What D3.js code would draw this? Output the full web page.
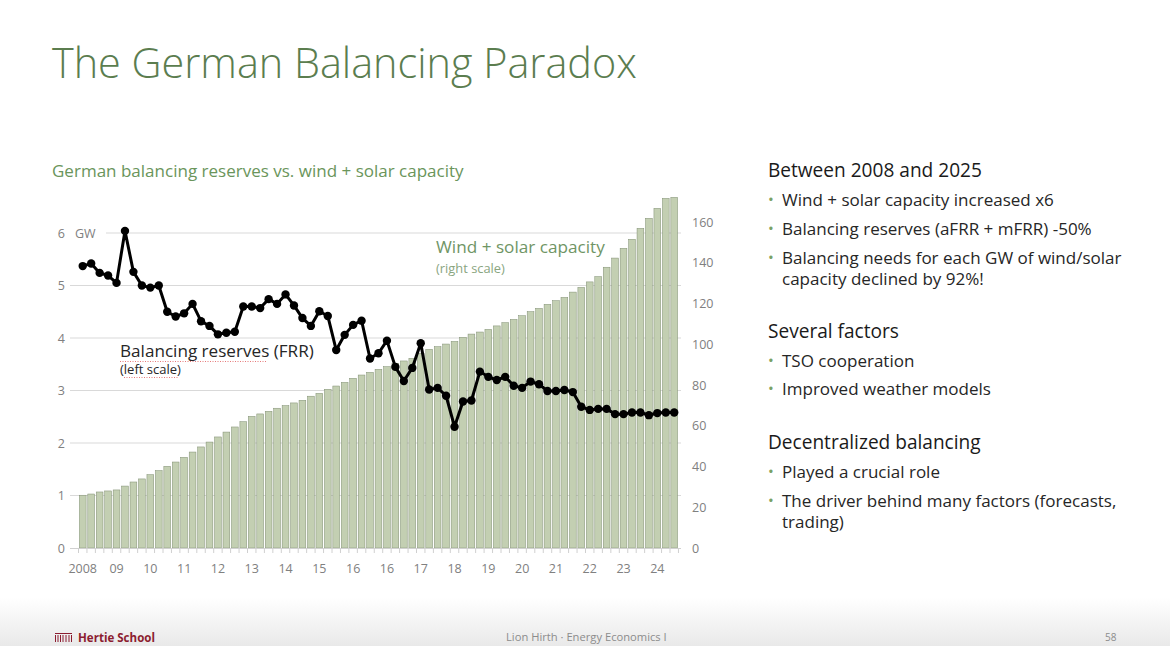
<!DOCTYPE html>
<html><head><meta charset="utf-8">
<script src="https://cdn.jsdelivr.net/npm/d3@7"></script>
<style>
html,body{margin:0;padding:0;background:#fff;}
svg{display:block;font-family:"Open Sans","Noto Sans",sans-serif;}
</style></head>
<body>
<svg id="c" width="1170" height="646"></svg>
<script>
// ---------------- data ----------------
const xTickLabels = ["2008","09","10","11","12","13","14","15","16","16","17","18","19","20","21","22","23","24"];
const labelEvery = 4;
// Wind + solar capacity (GW, right scale)
const capacity = [25.9,26.5,27.5,28.0,28.5,30.4,32.4,33.9,36.0,38.0,40.1,42.2,44.5,47.1,49.6,52.0,54.5,56.9,59.4,62.0,
  64.6,65.8,67.1,68.6,69.9,71.2,72.5,74.5,75.9,77.9,79.5,81.3,83.3,84.9,86.2,87.7,89.0,90.5,91.8,93.1,
  95.5,97.5,98.8,100.1,101.4,103.4,105.0,106.0,107.3,109.0,110.6,112.2,114.0,116.0,117.6,119.6,121.4,123.0,125.6,127.9,
  130.6,133.2,137.8,142.3,147.1,151.5,156.9,161.8,166.7,171.6,172.1];
// Balancing reserves FRR (GW, left scale)
const reserves = [5.37,5.42,5.24,5.19,5.05,6.04,5.26,5.00,4.96,5.00,4.50,4.41,4.47,4.65,4.32,4.23,4.07,4.10,4.12,4.60,
  4.60,4.57,4.74,4.65,4.83,4.62,4.38,4.23,4.51,4.42,3.77,4.06,4.25,4.33,3.61,3.71,3.95,3.45,3.18,3.43,
  3.90,3.02,3.05,2.90,2.31,2.79,2.81,3.36,3.26,3.20,3.26,3.09,3.05,3.17,3.12,2.99,2.99,3.01,2.97,2.69,
  2.63,2.65,2.65,2.55,2.55,2.58,2.58,2.53,2.57,2.58,2.58];
const categories = capacity.map((d,i)=>i);
const leftTicks = [0,1,2,3,4,5,6];
const rightTicks = [0,20,40,60,80,100,120,140,160];

const titleText = "The German Balancing Paradox";
const subtitleText = "German balancing reserves vs. wind + solar capacity";
const rightBlocks = [
  {head:"Between 2008 and 2025", items:[["Wind + solar capacity increased x6"],["Balancing reserves (aFRR + mFRR) -50%"],["Balancing needs for each GW of wind/solar","capacity declined by 92%!"]]},
  {head:"Several factors", items:[["TSO cooperation"],["Improved weather models"]]},
  {head:"Decentralized balancing", items:[["Played a crucial role"],["The driver behind many factors (forecasts,","trading)"]]}
];

// ---------------- drawing ----------------
const svg = d3.select("#c");
function fitTo(sel, w){ const fs = parseFloat(sel.attr("font-size")); const cur = sel.node().getComputedTextLength(); sel.attr("font-size", fs*w/cur); return fs*w/cur; }

// footer band
const defs = svg.append("defs");
const lg = defs.append("linearGradient").attr("id","fg").attr("x1",0).attr("y1",0).attr("x2",0).attr("y2",1);
lg.append("stop").attr("offset","0%").attr("stop-color","#ffffff");
lg.append("stop").attr("offset","100%").attr("stop-color","#e9e9e9");
svg.append("rect").attr("x",0).attr("y",598).attr("width",1170).attr("height",48).attr("fill","url(#fg)");

// title
const t = svg.append("text").attr("x",52).attr("y",78).attr("font-size",44).attr("font-weight",300)
  .attr("fill","#5b7d4f").text(titleText);
fitTo(t,585);
const st = svg.append("text").attr("x",52).attr("y",177).attr("font-size",16).attr("fill","#6a955b").text(subtitleText);
fitTo(st,412);

// scales
const step = 8.45;
const x = d3.scaleBand().domain(categories).range([78.5, 78.5+categories.length*step]).paddingInner(0.2).paddingOuter(0.1);
const yL = d3.scaleLinear().domain([0,6]).range([548,233]);
const yR = d3.scaleLinear().domain([0,160]).range([548,222]);

// gridlines
svg.append("g").selectAll("line").data(leftTicks.filter(d=>d>0)).join("line")
  .attr("x1",70).attr("x2",681).attr("y1",d=>yL(d)).attr("y2",d=>yL(d))
  .attr("stroke","#d9d9d9").attr("stroke-width",1);

// bars
svg.append("g").selectAll("rect").data(capacity).join("rect")
  .attr("x",(d,i)=>x(i)).attr("width",x.bandwidth())
  .attr("y",d=>yR(d)).attr("height",d=>yR(0)-yR(d))
  .attr("fill","#c3cfb2").attr("stroke","#7f8d71").attr("stroke-width",0.5);

// x axis line and minor ticks
svg.append("line").attr("x1",70).attr("x2",681).attr("y1",548.5).attr("y2",548.5).attr("stroke","#d0d0d0");
svg.append("g").selectAll("line").data(d3.range(categories.length+1)).join("line")
  .attr("x1",i=>78.5+i*step).attr("x2",i=>78.5+i*step).attr("y1",548.5).attr("y2",553)
  .attr("stroke","#d0d0d0");

// axes
const axisText = g => { g.select(".domain").remove(); g.selectAll("text").attr("fill","#808080").attr("font-size",12.5).attr("font-family","'Open Sans',sans-serif"); };
svg.append("g").attr("transform","translate(65,0)")
  .call(d3.axisLeft(yL).tickValues(leftTicks).tickSize(0).tickPadding(0).tickFormat(d3.format("d")))
  .call(axisText);
svg.append("g").attr("transform","translate(692,0)")
  .call(d3.axisRight(yR).tickValues(rightTicks).tickSize(0).tickPadding(0).tickFormat(d3.format("d")))
  .call(axisText);
const labelIdx = xTickLabels.map((d,k)=>k*labelEvery);
svg.append("g").attr("transform","translate(0,548)")
  .call(d3.axisBottom(x).tickValues(labelIdx).tickSize(0).tickPadding(16).tickFormat((d)=>xTickLabels[d/labelEvery]))
  .call(axisText);

// GW unit label
svg.append("rect").attr("x",70).attr("y",yL(6)-8).attr("width",36).attr("height",16).attr("fill","#fff");
svg.append("text").attr("x",75).attr("y",yL(6)+4.5).attr("font-size",12.5).attr("fill","#808080").text("GW");

// line
const lineGen = d3.line().x((d,i)=>x(i)+x.bandwidth()/2).y(d=>yL(d));
svg.append("path").datum(reserves).attr("d",lineGen).attr("fill","none").attr("stroke","#000").attr("stroke-width",3).attr("stroke-linejoin","round");
svg.append("g").selectAll("circle").data(reserves).join("circle")
  .attr("cx",(d,i)=>x(i)+x.bandwidth()/2).attr("cy",d=>yL(d)).attr("r",4.2).attr("fill","#000");

// annotations
const a1 = svg.append("text").attr("x",436).attr("y",253).attr("font-size",17).attr("fill","#6f9565").text("Wind + solar capacity");
fitTo(a1,169);
const a2 = svg.append("text").attr("x",436).attr("y",273).attr("font-size",12).attr("fill","#8aa57f").text("(right scale)");
fitTo(a2,69);
const b1 = svg.append("text").attr("x",120).attr("y",357).attr("font-size",17).attr("fill","#262626").text("Balancing reserves (FRR)");
fitTo(b1,194);
const b2 = svg.append("text").attr("x",120).attr("y",374).attr("font-size",12).attr("fill","#262626").text("(left scale)");
fitTo(b2,61);
svg.append("line").attr("x1",120).attr("x2",267).attr("y1",361.5).attr("y2",361.5).attr("stroke","#e05a5a").attr("stroke-width",1).attr("stroke-dasharray","1,1.5").attr("opacity",0.8);
svg.append("line").attr("x1",124).attr("x2",178).attr("y1",377.5).attr("y2",377.5).attr("stroke","#e05a5a").attr("stroke-width",1).attr("stroke-dasharray","1,1.5").attr("opacity",0.8);

// right text block
const headY = [177, 338, 449];
const rt = svg.append("g");
let headFs = null, bodyFs = null;
{
  const probe = rt.append("text").attr("font-size",18).text(rightBlocks[0].head);
  headFs = 18*214/probe.node().getComputedTextLength(); probe.remove();
  const probe2 = rt.append("text").attr("font-size",15).text(rightBlocks[0].items[2][0]);
  bodyFs = 15*340/probe2.node().getComputedTextLength(); probe2.remove();
}
const bodyY = [[206,235,[264,285]],[367,395],[478,[507,528]]];
rightBlocks.forEach((b,bi)=>{
  rt.append("text").attr("x",768).attr("y",headY[bi]).attr("font-size",headFs).attr("fill","#1a1a1a").text(b.head);
  b.items.forEach((lines,li)=>{
    const ys = Array.isArray(bodyY[bi][li]) ? bodyY[bi][li] : [bodyY[bi][li]];
    rt.append("text").attr("x",768).attr("y",ys[0]-1).attr("font-size",bodyFs*0.9).attr("fill","#7aa165").text("•");
    lines.forEach((ln,k)=>{
      rt.append("text").attr("x",782).attr("y",ys[k]).attr("font-size",bodyFs).attr("fill","#262626").text(ln);
    });
  });
});

// footer
const logo = svg.append("g").attr("stroke","#8c1d30").attr("stroke-width",1);
logo.append("line").attr("x1",55).attr("x2",72).attr("y1",633.5).attr("y2",633.5);
[55.5,58,60.5,63,66,69,71.5].forEach(xx=>logo.append("line").attr("x1",xx).attr("x2",xx).attr("y1",i=>0).attr("y1",635).attr("y2",642));
const hs = svg.append("text").attr("x",78).attr("y",642).attr("font-size",12).attr("font-weight",700).attr("fill","#8c1d30").text("Hertie School");
fitTo(hs,77);
const ft = svg.append("text").attr("x",506).attr("y",641).attr("font-size",10).attr("fill","#8c8c8c").text("Lion Hirth  ·  Energy Economics I");
fitTo(ft,161);
svg.append("text").attr("x",1105).attr("y",641).attr("font-size",10).attr("fill","#8c8c8c").text("58");
</script>
</body></html>
